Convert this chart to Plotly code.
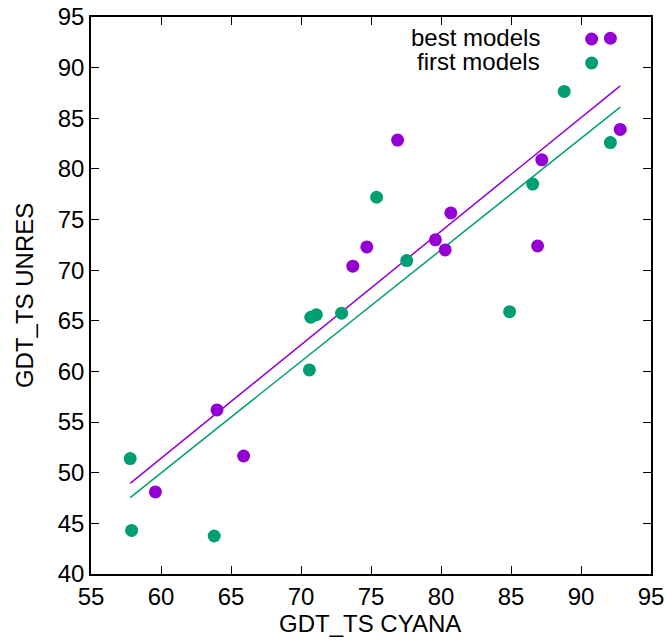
import plotly.graph_objects as go

# Data
best_x = [59.6, 64.0, 65.9, 73.7, 74.7, 76.9, 79.6, 80.3, 80.7, 86.9, 87.2, 92.1, 92.8]
best_y = [48.1, 56.2, 51.65, 70.4, 72.3, 82.85, 73.0, 72.0, 75.65, 72.4, 80.9, 92.9, 83.9]

first_x = [57.8, 57.9, 63.8, 70.6, 70.7, 71.1, 72.9, 75.4, 77.55, 84.9, 86.55, 88.8, 92.1]
first_y = [51.4, 44.3, 43.75, 60.15, 65.35, 65.6, 65.75, 77.2, 70.95, 65.9, 78.5, 87.65, 82.6]

# Linear fit lines (endpoints)
fit_x = [57.8, 92.8]
best_fit_y = [48.95, 88.2]
first_fit_y = [47.55, 86.1]

series_names = ["best models", "first models"]
x_title = "GDT_TS CYANA"
y_title = "GDT_TS UNRES"
x_ticks = [55, 60, 65, 70, 75, 80, 85, 90, 95]
y_ticks = [40, 45, 50, 55, 60, 65, 70, 75, 80, 85, 90, 95]

PURPLE = "#9400D3"
GREEN = "#009E73"
FONT = "Liberation Sans, Arial, sans-serif"
FS = 24

fig = go.Figure()
fig.add_trace(go.Scatter(x=fit_x, y=best_fit_y, mode="lines",
                         line=dict(color=PURPLE, width=1.5), showlegend=False))
fig.add_trace(go.Scatter(x=fit_x, y=first_fit_y, mode="lines",
                         line=dict(color=GREEN, width=1.5), showlegend=False))
fig.add_trace(go.Scatter(x=best_x, y=best_y, mode="markers", name=series_names[0],
                         marker=dict(color=PURPLE, size=13, line=dict(width=0)),
                         showlegend=False))
fig.add_trace(go.Scatter(x=first_x, y=first_y, mode="markers", name=series_names[1],
                         marker=dict(color=GREEN, size=13, line=dict(width=0)),
                         showlegend=False))

# gnuplot-like key: right-aligned text, sample to the right
key_text_x = 0.8054
key_sample_x = 0.894
key_rows = [0.964, 0.921]
key_sample_rows = [0.9605, 0.9174]
key_colors = [PURPLE, GREEN]
annotations = []
shapes = []
for name, yy, ys, col in zip(series_names, key_rows, key_sample_rows, key_colors):
    annotations.append(dict(x=key_text_x, y=yy, xref="paper", yref="paper",
                            text=name, showarrow=False, xanchor="right",
                            yanchor="middle", height=22,
                            font=dict(family=FONT, size=FS, color="black")))
    shapes.append(dict(type="circle", xref="paper", yref="paper",
                       xsizemode="pixel", ysizemode="pixel",
                       xanchor=key_sample_x, yanchor=ys,
                       x0=-6.5, x1=6.5, y0=-6.5, y1=6.5,
                       fillcolor=col, line=dict(width=0)))

# axis titles placed like gnuplot's
annotations.append(dict(x=0.498, y=-0.088, xref="paper", yref="paper", text=x_title,
                        showarrow=False, xanchor="center", yanchor="middle",
                        font=dict(family=FONT, size=FS, color="black")))
annotations.append(dict(x=-0.1196, y=0.499, xref="paper", yref="paper", text=y_title,
                        showarrow=False, xanchor="center", yanchor="middle", textangle=-90,
                        font=dict(family=FONT, size=FS, color="black")))

axis_common = dict(
    showline=True, linecolor="black", linewidth=1.5, mirror="ticks",
    ticks="inside", ticklen=8, tickwidth=1, tickcolor="black",
    showgrid=False, zeroline=False, automargin=False,
    ticklabeloverflow="allow",
    tickfont=dict(family=FONT, size=FS, color="black"),
)

fig.update_xaxes(range=[55, 95], tickvals=x_ticks, ticktext=[str(v) for v in x_ticks],
                 **axis_common)
fig.update_yaxes(range=[40, 95], tickvals=y_ticks, ticktext=[str(v) for v in y_ticks],
                 **axis_common)

fig.update_layout(
    width=670, height=640,
    margin=dict(l=91, r=19, t=17, b=66),
    plot_bgcolor="white", paper_bgcolor="white",
    annotations=annotations, shapes=shapes,
    showlegend=False,
)

# remove the default page body margin so the figure fills the window exactly
fig.write_html("out.html", config={"displayModeBar": False},
               post_script="document.body.style.margin='0';")
